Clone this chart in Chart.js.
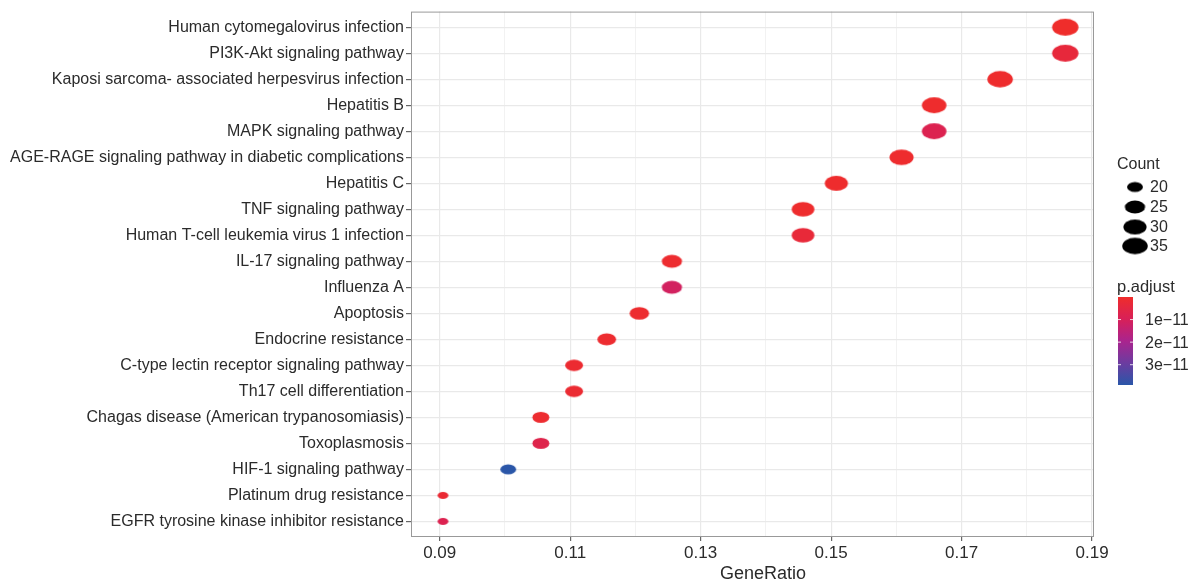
<!DOCTYPE html>
<html>
<head>
<meta charset="utf-8">
<script src="https://cdn.jsdelivr.net/npm/chart.js@4.4.1/dist/chart.umd.min.js"></script>
<style>
  body { margin: 0; background: #fff; }
  #wrap { width: 1189px; height: 581px; position: relative; }
</style>
</head>
<body>
<div id="wrap"><canvas id="dotplot"></canvas></div>
<script>
// pathways, top to bottom
const categories = [
  "Human cytomegalovirus infection",
  "PI3K-Akt signaling pathway",
  "Kaposi sarcoma- associated herpesvirus infection",
  "Hepatitis B",
  "MAPK signaling pathway",
  "AGE-RAGE signaling pathway in diabetic complications",
  "Hepatitis C",
  "TNF signaling pathway",
  "Human T-cell leukemia virus 1 infection",
  "IL-17 signaling pathway",
  "Influenza A",
  "Apoptosis",
  "Endocrine resistance",
  "C-type lectin receptor signaling pathway",
  "Th17 cell differentiation",
  "Chagas disease (American trypanosomiasis)",
  "Toxoplasmosis",
  "HIF-1 signaling pathway",
  "Platinum drug resistance",
  "EGFR tyrosine kinase inhibitor resistance"
];
const geneRatio = [0.1859, 0.1859, 0.1759, 0.1658, 0.1658, 0.1608, 0.1508, 0.1457, 0.1457, 0.1256,
                   0.1256, 0.1206, 0.1156, 0.1106, 0.1106, 0.1055, 0.1055, 0.1005, 0.0905, 0.0905];
const geneCount = [37, 37, 35, 33, 33, 32, 30, 29, 29, 25, 25, 24, 23, 22, 22, 21, 21, 20, 18, 18];
const pAdjust = [0.01e-11, 0.35e-11, 0.05e-11, 0.05e-11, 0.8e-11, 0.06e-11, 0.05e-11, 0.05e-11, 0.3e-11, 0.1e-11,
                 1.1e-11, 0.08e-11, 0.1e-11, 0.12e-11, 0.15e-11, 0.1e-11, 0.7e-11, 3.9e-11, 0.2e-11, 0.8e-11];

// x axis grid (majors labelled)
const xGrid = [0.09, 0.10, 0.11, 0.12, 0.13, 0.14, 0.15, 0.16, 0.17, 0.18, 0.19];
const xMajorLabels = ["0.09", "0.11", "0.13", "0.15", "0.17", "0.19"];

// legends
const countLegend = [20, 25, 30, 35];
const pLegendValues = [1e-11, 2e-11, 3e-11];
const pLegendLabels = ["1e\u221211", "2e\u221211", "3e\u221211"];

const FONT = "'Liberation Sans', Arial, sans-serif";
const TEXT = "#2b2b2b";

// color scale (red -> blue through magenta)
const colorStops = [
  [0.0, [239, 45, 43]],
  [0.25, [216, 32, 88]],
  [0.5, [170, 36, 142]],
  [0.75, [108, 60, 160]],
  [1.0, [42, 86, 168]]
];
const pMin = 0, pMax = 3.9e-11;

function pColor(p) {
  let t = (p - pMin) / (pMax - pMin);
  t = Math.max(0, Math.min(1, t));
  for (let i = 1; i < colorStops.length; i++) {
    if (t <= colorStops[i][0]) {
      const a = colorStops[i - 1], b = colorStops[i];
      const f = (t - a[0]) / (b[0] - a[0]);
      const c = a[1].map((v, k) => Math.round(v + (b[1][k] - v) * f));
      return `rgb(${c[0]},${c[1]},${c[2]})`;
    }
  }
  return "rgb(42,86,168)";
}

// size scale
function dotHeight(count) {
  return 7 + 10 * Math.sqrt(Math.max(0, count - 18) / 19);
}
function makeEllipse(color, count) {
  const h = dotHeight(count);
  const w = h * 1.55;
  const c = document.createElement("canvas");
  c.width = Math.ceil(w) + 2;
  c.height = Math.ceil(h) + 2;
  const g = c.getContext("2d");
  g.fillStyle = color;
  g.beginPath();
  g.ellipse(c.width / 2, c.height / 2, w / 2, h / 2, 0, 0, Math.PI * 2);
  g.fill();
  return c;
}

const sprites = geneRatio.map((v, i) => makeEllipse(pColor(pAdjust[i]), geneCount[i]));

const points = geneRatio.map((v, i) => ({ x: v, y: i }));

const isMajor = (v) => xMajorLabels.includes(v.toFixed(2));

const legendPlugin = {
  id: "ggLegend",
  beforeDraw(chart) {
    const ctx = chart.ctx;
    ctx.save();
    ctx.fillStyle = "#fff";
    ctx.fillRect(0, 0, chart.width, chart.height);
    ctx.restore();
  },
  afterDraw(chart) {
    const ctx = chart.ctx;
    const a = chart.chartArea;
    ctx.save();
    // panel border
    ctx.strokeStyle = "#999";
    ctx.lineWidth = 1;
    ctx.strokeRect(a.left + 0.5, a.top + 0.5, a.right - a.left - 1, a.bottom - a.top - 1);

    // x title
    ctx.fillStyle = TEXT;
    ctx.font = `18px ${FONT}`;
    ctx.textAlign = "center";
    ctx.textBaseline = "middle";
    ctx.fillText("GeneRatio", 763, 574);

    // Count legend
    ctx.textAlign = "left";
    ctx.font = `16px ${FONT}`;
    ctx.fillText("Count", 1117, 165);
    const ys = [187, 207, 227, 246];
    countLegend.forEach((c, i) => {
      const s = makeEllipse("#000", c);
      ctx.drawImage(s, 1135 - s.width / 2, ys[i] - s.height / 2);
      ctx.fillStyle = TEXT;
      ctx.fillText(String(c), 1150, ys[i] + 1);
    });

    // p.adjust colorbar
    ctx.font = `16.5px ${FONT}`;
    ctx.fillText("p.adjust", 1117, 287);
    ctx.font = `16px ${FONT}`;
    const barTop = 297, barBot = 385, barL = 1118, barW = 15;
    const grad = ctx.createLinearGradient(0, barTop, 0, barBot);
    colorStops.forEach(([t, c]) => grad.addColorStop(t, `rgb(${c[0]},${c[1]},${c[2]})`));
    ctx.fillStyle = grad;
    ctx.fillRect(barL, barTop, barW, barBot - barTop);
    pLegendValues.forEach((v, i) => {
      const y = barTop + (v - pMin) / (pMax - pMin) * (barBot - barTop);
      ctx.strokeStyle = "rgba(255,255,255,0.8)";
      ctx.beginPath();
      ctx.moveTo(barL, y); ctx.lineTo(barL + 3, y);
      ctx.moveTo(barL + barW - 3, y); ctx.lineTo(barL + barW, y);
      ctx.stroke();
      ctx.fillStyle = TEXT;
      ctx.fillText(pLegendLabels[i], 1145, y + 1);
    });
    ctx.restore();
  }
};

new Chart(document.getElementById("dotplot"), {
  type: "scatter",
  data: {
    datasets: [{
      data: points,
      pointStyle: (c) => sprites[c.dataIndex],
      pointRadius: 6,
      pointHoverRadius: 6
    }]
  },
  options: {
    responsive: true,
    maintainAspectRatio: false,
    animation: false,
    layout: { padding: { top: 11, right: 95, left: 0, bottom: 0 } },
    plugins: { legend: { display: false }, tooltip: { enabled: false } },
    scales: {
      x: {
        type: "linear",
        min: 0.0856,
        max: 0.1903,
        afterBuildTicks: (s) => { s.ticks = xGrid.map((v) => ({ value: v })); },
        afterFit: (s) => { s.height = 44; },
        border: { display: false },
        grid: {
          color: "#e9e9e9",
          lineWidth: (c) => (c.tick && isMajor(c.tick.value) ? 1.2 : 0.6),
          tickColor: (c) => (c.tick && isMajor(c.tick.value) ? "#666" : "rgba(0,0,0,0)"),
          tickLength: 4
        },
        ticks: {
          autoSkip: false,
          maxRotation: 0,
          padding: 2,
          color: TEXT,
          font: { family: FONT, size: 17 },
          callback: (v) => (isMajor(v) ? v.toFixed(2) : "")
        }
      },
      y: {
        type: "linear",
        reverse: true,
        min: -0.6,
        max: categories.length - 0.4,
        afterBuildTicks: (s) => { s.ticks = categories.map((n, i) => ({ value: i })); },
        afterFit: (s) => { s.width = 411; },
        border: { display: false },
        grid: {
          color: "#e9e9e9",
          lineWidth: 1.2,
          tickColor: "#666",
          tickLength: 5
        },
        ticks: {
          autoSkip: false,
          padding: 2,
          color: TEXT,
          font: { family: FONT, size: 16 },
          callback: (v) => categories[v]
        }
      }
    }
  },
  plugins: [legendPlugin]
});
</script>
</body>
</html>
